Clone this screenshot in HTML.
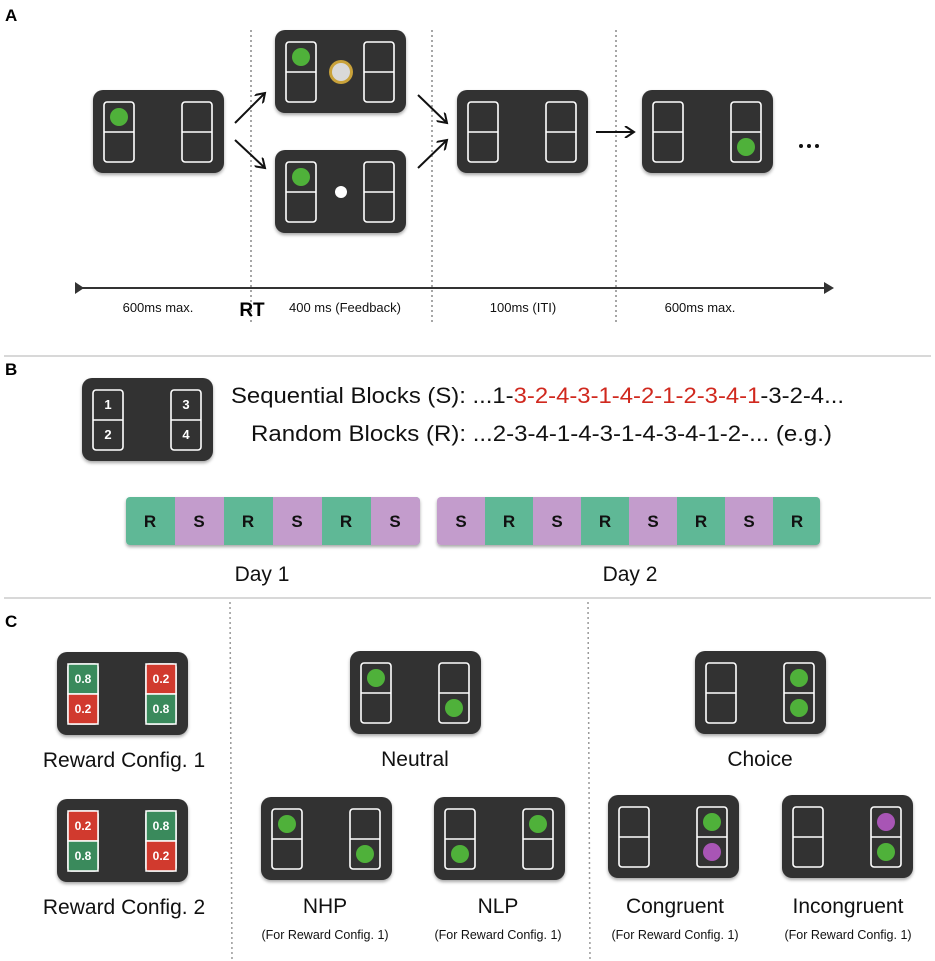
<!DOCTYPE html>
<html><head><meta charset="utf-8"><style>
html,body{margin:0;padding:0;background:#fff;}
svg{display:block;}
text{font-family:"Liberation Sans",sans-serif;}
</style></head><body>
<svg width="935" height="961" viewBox="0 0 935 961" xmlns="http://www.w3.org/2000/svg">
<defs>
<filter id="sh" x="-10%" y="-10%" width="120%" height="130%"><feDropShadow dx="0" dy="2" stdDeviation="1.5" flood-color="#000" flood-opacity="0.35"/></filter>
<g id="card">
<rect x="0" y="0" width="131" height="83" rx="10" fill="#323232" filter="url(#sh)"/>
<rect x="11" y="12" width="30" height="60" rx="3" fill="none" stroke="#fff" stroke-width="1.6"/>
<line x1="11" y1="42" x2="41" y2="42" stroke="#fff" stroke-width="1.6"/>
<rect x="89" y="12" width="30" height="60" rx="3" fill="none" stroke="#fff" stroke-width="1.6"/>
<line x1="89" y1="42" x2="119" y2="42" stroke="#fff" stroke-width="1.6"/>
</g>
<marker id="ah" markerWidth="12" markerHeight="12" refX="10" refY="6" orient="auto" markerUnits="userSpaceOnUse"><path d="M1,0 L10,6 L1,12" fill="none" stroke="#111" stroke-width="2"/></marker>
</defs>

<!-- Panel labels -->
<text x="5" y="21" font-size="17" font-weight="bold">A</text>
<text x="5" y="375" font-size="17" font-weight="bold">B</text>
<text x="5" y="627" font-size="17" font-weight="bold">C</text>

<!-- separators -->
<line x1="4" y1="356" x2="931" y2="356" stroke="#ccc" stroke-width="1.5"/>
<line x1="4" y1="598" x2="931" y2="598" stroke="#ccc" stroke-width="1.5"/>

<!-- Panel A -->
<g stroke="#888" stroke-width="1.5" stroke-dasharray="2,3">
<line x1="251" y1="30" x2="251" y2="322"/>
<line x1="432" y1="30" x2="432" y2="322"/>
<line x1="616" y1="30" x2="616" y2="322"/>
</g>
<use href="#card" x="93" y="90"/><circle cx="119" cy="117" r="9" fill="#4fb13a"/>
<use href="#card" x="275" y="30"/><circle cx="301" cy="57" r="9" fill="#4fb13a"/>
<circle cx="341" cy="72" r="12" fill="#c9a23a"/><circle cx="341" cy="72" r="9" fill="#d9d9d9"/>
<use href="#card" x="275" y="150"/><circle cx="301" cy="177" r="9" fill="#4fb13a"/><circle cx="341" cy="192" r="6" fill="#fff"/>
<use href="#card" x="457" y="90"/>
<use href="#card" x="642" y="90"/><circle cx="746" cy="147" r="9" fill="#4fb13a"/>
<g stroke="#111" stroke-width="2" fill="none">
<line x1="235" y1="123" x2="265" y2="93" marker-end="url(#ah)"/>
<line x1="235" y1="140" x2="265" y2="168" marker-end="url(#ah)"/>
<line x1="418" y1="95" x2="447" y2="123" marker-end="url(#ah)"/>
<line x1="418" y1="168" x2="447" y2="140" marker-end="url(#ah)"/>
<line x1="596" y1="132" x2="634" y2="132" marker-end="url(#ah)"/>
</g>
<g fill="#111"><circle cx="801" cy="146" r="2"/><circle cx="809" cy="146" r="2"/><circle cx="817" cy="146" r="2"/></g>
<line x1="78" y1="288" x2="826" y2="288" stroke="#333" stroke-width="2"/>
<path d="M75,282 L84,288 L75,294 Z" fill="#333"/>
<path d="M824,282 L834,288 L824,294 Z" fill="#333"/>
<g font-size="13" text-anchor="middle" fill="#111">
<text x="158" y="312">600ms max.</text>
<text x="345" y="312">400 ms (Feedback)</text>
<text x="523" y="312">100ms (ITI)</text>
<text x="700" y="312">600ms max.</text>
</g>
<text x="252" y="316" font-size="19" font-weight="bold" text-anchor="middle">RT</text>

<!-- Panel B -->
<use href="#card" x="82" y="378"/>
<g font-size="13" font-weight="bold" fill="#fff" text-anchor="middle">
<text x="108" y="409">1</text><text x="108" y="439">2</text>
<text x="186" y="409">3</text><text x="186" y="439">4</text>
</g>
<text x="231" y="403" font-size="22" textLength="613" lengthAdjust="spacingAndGlyphs" fill="#111">Sequential Blocks (S): ...1-<tspan fill="#d0281e">3-2-4-3-1-4-2-1-2-3-4-1</tspan>-3-2-4...</text>
<text x="251" y="441" font-size="22" textLength="581" lengthAdjust="spacingAndGlyphs" fill="#111">Random Blocks (R): ...2-3-4-1-4-3-1-4-3-4-1-2-...  (e.g.)</text>

<g filter="url(#sh)">
<rect x="126" y="497" width="294" height="48" rx="4" fill="#5fb896"/>
<rect x="437" y="497" width="383" height="48" rx="4" fill="#c39ccc"/>
</g>
<rect x="175" y="497" width="49" height="48" fill="#c39ccc"/>
<rect x="273" y="497" width="49" height="48" fill="#c39ccc"/>
<path d="M371,497 h45 a4,4 0 0 1 4,4 v40 a4,4 0 0 1 -4,4 h-45 z" fill="#c39ccc"/>
<rect x="485" y="497" width="48" height="48" fill="#5fb896"/>
<rect x="581" y="497" width="48" height="48" fill="#5fb896"/>
<rect x="677" y="497" width="48" height="48" fill="#5fb896"/>
<path d="M773,497 h43 a4,4 0 0 1 4,4 v40 a4,4 0 0 1 -4,4 h-43 z" fill="#5fb896"/>
<g font-size="17" font-weight="bold" text-anchor="middle" fill="#111">
<text x="150" y="527">R</text><text x="199" y="527">S</text><text x="248" y="527">R</text><text x="297" y="527">S</text><text x="346" y="527">R</text><text x="395" y="527">S</text>
<text x="461" y="527">S</text><text x="509" y="527">R</text><text x="557" y="527">S</text><text x="605" y="527">R</text><text x="653" y="527">S</text><text x="701" y="527">R</text><text x="749" y="527">S</text><text x="797" y="527">R</text>
</g>
<g font-size="21" text-anchor="middle" fill="#111">
<text x="262" y="581">Day 1</text><text x="630" y="581">Day 2</text>
</g>

<!-- Panel C -->
<g stroke="#999" stroke-width="1.5" stroke-dasharray="2,3">
<line x1="230" y1="602" x2="232" y2="961"/>
<line x1="588" y1="602" x2="590" y2="961"/>
</g>
<!-- reward config 1 -->
<use href="#card" x="57" y="652"/>
<g stroke="#fff" stroke-width="1.5">
<rect x="68" y="664" width="30" height="30" fill="#3a8a5c"/><rect x="68" y="694" width="30" height="30" fill="#d13a2e"/>
<rect x="146" y="664" width="30" height="30" fill="#d13a2e"/><rect x="146" y="694" width="30" height="30" fill="#3a8a5c"/>
<rect x="68" y="811" width="30" height="30" fill="#d13a2e"/><rect x="68" y="841" width="30" height="30" fill="#3a8a5c"/>
<rect x="146" y="811" width="30" height="30" fill="#3a8a5c"/><rect x="146" y="841" width="30" height="30" fill="#d13a2e"/>
</g>
<use href="#card" x="57" y="799"/>
<g stroke="#fff" stroke-width="1.5">
<rect x="68" y="811" width="30" height="30" fill="#d13a2e"/><rect x="68" y="841" width="30" height="30" fill="#3a8a5c"/>
<rect x="146" y="811" width="30" height="30" fill="#3a8a5c"/><rect x="146" y="841" width="30" height="30" fill="#d13a2e"/>
</g>
<g font-size="12" font-weight="bold" fill="#fff" text-anchor="middle">
<text x="83" y="683">0.8</text><text x="83" y="713">0.2</text><text x="161" y="683">0.2</text><text x="161" y="713">0.8</text>
<text x="83" y="830">0.2</text><text x="83" y="860">0.8</text><text x="161" y="830">0.8</text><text x="161" y="860">0.2</text>
</g>

<use href="#card" x="350" y="651"/><circle cx="376" cy="678" r="9" fill="#4fb13a"/><circle cx="454" cy="708" r="9" fill="#4fb13a"/>
<use href="#card" x="261" y="797"/><circle cx="287" cy="824" r="9" fill="#4fb13a"/><circle cx="365" cy="854" r="9" fill="#4fb13a"/>
<use href="#card" x="434" y="797"/><circle cx="460" cy="854" r="9" fill="#4fb13a"/><circle cx="538" cy="824" r="9" fill="#4fb13a"/>
<use href="#card" x="695" y="651"/><circle cx="799" cy="678" r="9" fill="#4fb13a"/><circle cx="799" cy="708" r="9" fill="#4fb13a"/>
<use href="#card" x="608" y="795"/><circle cx="712" cy="822" r="9" fill="#4fb13a"/><circle cx="712" cy="852" r="9" fill="#a855b5"/>
<use href="#card" x="782" y="795"/><circle cx="886" cy="822" r="9" fill="#a855b5"/><circle cx="886" cy="852" r="9" fill="#4fb13a"/>

<g font-size="21" text-anchor="middle" fill="#111">
<text x="124" y="767">Reward Config. 1</text>
<text x="124" y="914">Reward Config. 2</text>
<text x="415" y="766">Neutral</text>
<text x="760" y="766">Choice</text>
<text x="325" y="913">NHP</text>
<text x="498" y="913">NLP</text>
<text x="675" y="913">Congruent</text>
<text x="848" y="913">Incongruent</text>
</g>
<g font-size="12.5" text-anchor="middle" fill="#111">
<text x="325" y="939">(For Reward Config. 1)</text>
<text x="498" y="939">(For Reward Config. 1)</text>
<text x="675" y="939">(For Reward Config. 1)</text>
<text x="848" y="939">(For Reward Config. 1)</text>
</g>
</svg>
</body></html>
